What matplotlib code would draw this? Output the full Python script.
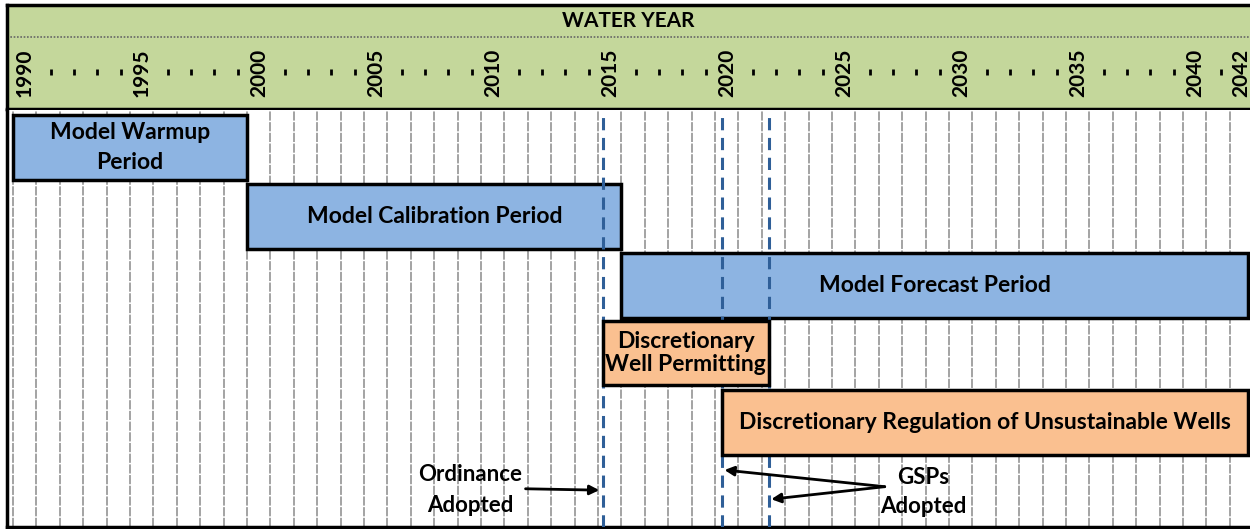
import numpy as np
import matplotlib.pyplot as plt

plt.rcParams['font.family'] = ['Lato', 'DejaVu Sans']

# timeline data (water years; a year Y fills the cell [Y, Y+1])
first_year = 1990
last_year = 2042
labeled_years = [1990, 1995, 2000, 2005, 2010, 2015, 2020, 2025, 2030, 2035, 2040, 2042]

bar_labels = ['Model Warmup\nPeriod', 'Model Calibration Period', 'Model Forecast Period',
              'Discretionary\nWell Permitting', 'Discretionary Regulation of Unsustainable Wells']
bar_start = [1990.0, 2000.0, 2016.0, 2015.2, 2020.3]
bar_end = [2000.0, 2016.0, 2042.78, 2022.3, 2042.78]
bar_row = [0.07, 1.07, 2.06, 3.03, 4.03]
bar_kind = ['model', 'model', 'model', 'policy', 'policy']

event_years = [2015.2, 2020.3, 2022.3]   # ordinance, GSPs, GSPs

blue = '#8DB4E2'
orange = '#FAC090'
green = '#C4D79B'
dash_blue = '#2F5F98'
line_sp = [1.55, 1.2, 1.2, 1.15, 1.2]

W, H = 1250, 529
fig = plt.figure(figsize=(W / 100, H / 100), dpi=100)

x0 = first_year - 0.26
x1 = last_year + 0.86

# header
hx = fig.add_axes([7 / W, (H - 109) / H, (W - 7) / W, 104 / H])
hx.set_facecolor(green)
hx.set_xlim(x0, x1)
hx.set_ylim(0, 1)
hx.set_xticks([])
hx.set_yticks([])
hx.spines['right'].set_visible(False)
for s in ['top', 'left', 'bottom']:
    hx.spines[s].set_linewidth(2.5)
hx.axhline(0.69, color='#666666', lw=1.2, ls=(0, (1, 1)))
hx.text(0.5, 0.85, 'WATER YEAR', transform=hx.transAxes, ha='center', va='center',
        fontsize=15, fontweight='bold')
for yr in range(first_year, last_year + 1):
    if yr in labeled_years:
        hx.text(yr + 0.5, 0.345, str(yr), rotation=90, ha='center', va='center',
                fontsize=15, fontweight='bold')
    else:
        hx.plot(yr + 0.6, 0.36, marker='|', color='black', ms=5, mew=2)

# gantt area
ax = fig.add_axes([7 / W, (H - 527) / H, (W - 7) / W, 417 / H])
ax.set_xlim(x0, x1)
ax.set_ylim(6, 0)
ax.set_xticks([])
ax.set_yticks([])
ax.spines['top'].set_visible(False)
ax.spines['right'].set_visible(False)
ax.spines['left'].set_linewidth(2.5)
ax.spines['bottom'].set_linewidth(2.5)

for yr in range(first_year, last_year + 2):
    ax.axvline(yr, color='#8a8a8a', lw=1.1, ls=(0, (6, 1)), zorder=1)

for x in event_years:
    ax.axvline(x, color=dash_blue, lw=2.2, ls=(0, (4, 2.5)), zorder=3)

for lab, s, e, r, k, sp in zip(bar_labels, bar_start, bar_end, bar_row, bar_kind, line_sp):
    col = blue if k == 'model' else orange
    z = 2 if k == 'model' else 4
    ax.barh(r, e - s, left=s, height=0.93, align='edge', color=col,
            edgecolor='black', linewidth=2.5, zorder=z)
    ax.text((s + e) / 2, r + 0.465, lab, ha='center', va='center', fontsize=16.5,
            fontweight='bold', linespacing=sp, zorder=5)

arrow = dict(arrowstyle='-|>', color='black', lw=2, mutation_scale=14, shrinkA=0, shrinkB=0)
ax.text(2009.55, 5.47, 'Ordinance\nAdopted', ha='center', va='center', fontsize=16,
        fontweight='bold', linespacing=1.55, zorder=5)
ax.annotate('', xy=(event_years[0] - 0.15, 5.47), xytext=(2011.9, 5.45), arrowprops=arrow, zorder=5)

ax.text(2028.9, 5.5, 'GSPs\nAdopted', ha='center', va='center', fontsize=16,
        fontweight='bold', linespacing=1.45, zorder=5)
ax.annotate('', xy=(event_years[1] + 0.1, 5.18), xytext=(2027.25, 5.42), arrowprops=arrow, zorder=5)
ax.annotate('', xy=(event_years[2] + 0.1, 5.6), xytext=(2027.25, 5.42), arrowprops=arrow, zorder=5)

fig.savefig('out.png', dpi=100)
